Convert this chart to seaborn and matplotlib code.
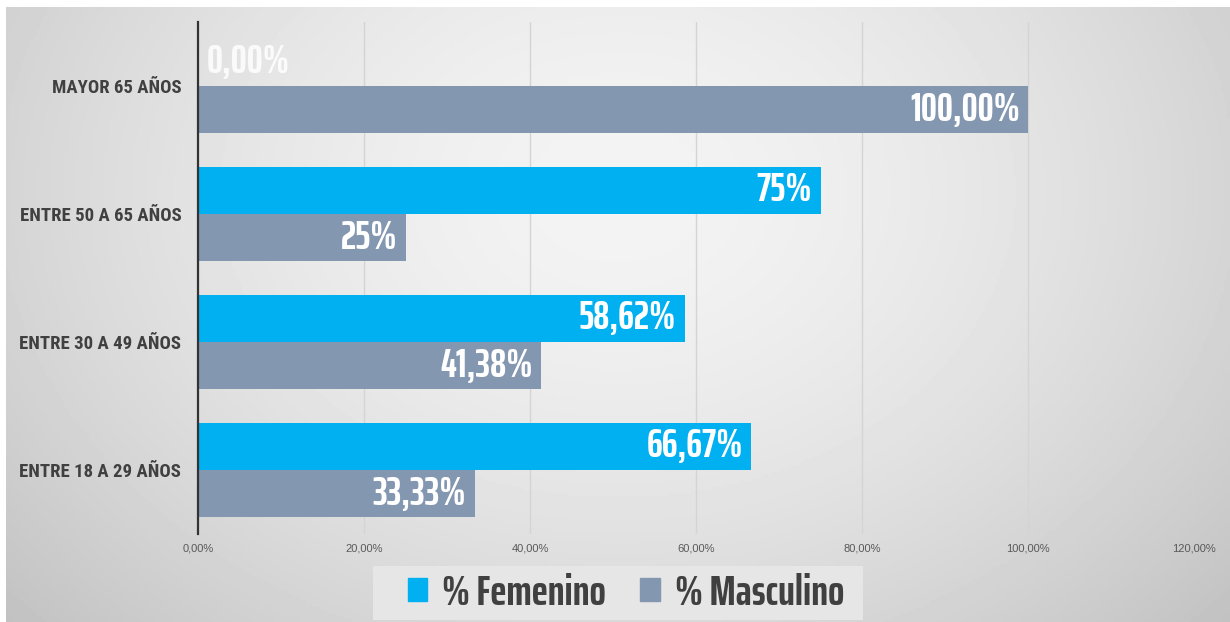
import matplotlib.pyplot as plt
import matplotlib.patches as patches
import seaborn as sns
import numpy as np
import pandas as pd

# data
grupos = ['MAYOR 65 AÑOS', 'ENTRE 50 A 65 AÑOS', 'ENTRE 30 A 49 AÑOS', 'ENTRE 18 A 29 AÑOS']
femenino = [0.0, 75.0, 58.62, 66.67]
masculino = [100.0, 25.0, 41.38, 33.33]
etiq_fem = ['0,00%', '75%', '58,62%', '66,67%']
etiq_mas = ['100,00%', '25%', '41,38%', '33,33%']
series = ['% Femenino', '% Masculino']
ticks = [0, 20, 40, 60, 80, 100, 120]
tick_labels = ['0,00%', '20,00%', '40,00%', '60,00%', '80,00%', '100,00%', '120,00%']

col_fem = '#00B0F0'
col_mas = '#8497B0'
cond = ['Saira ExtraCondensed', 'DejaVu Sans']
narrow = ['Roboto Condensed', 'DejaVu Sans']

df = pd.DataFrame({
    'grupo': grupos * 2,
    'serie': [series[0]] * 4 + [series[1]] * 4,
    'valor': femenino + masculino,
})

sns.set_theme(style='white')
plt.rcParams['font.family'] = ['Liberation Sans', 'DejaVu Sans']

W, H = 1230, 622
fig = plt.figure(figsize=(W / 100, H / 100), dpi=100)
fig.patch.set_facecolor('white')

# background: soft radial gray gradient, white strip on top / left
bg = fig.add_axes([6 / W, 0, 1 - 6 / W, 1 - 7 / H], zorder=-10)
yy, xx = np.mgrid[0:1:200j, 0:1:400j]
r = np.sqrt(((xx - 0.5) / 0.62) ** 2 + ((yy - 0.3) / 0.95) ** 2)
bg.imshow(0.955 - 0.17 * np.clip(r, 0, 1.1) ** 1.6, cmap='gray', vmin=0, vmax=1,
          aspect='auto', extent=[0, 1, 0, 1], origin='upper')
bg.axis('off')

ax = fig.add_axes([198 / W, 1 - 534 / H, (1194 - 198) / W, (534 - 22) / H])
ax.patch.set_alpha(0)

sns.barplot(data=df, y='grupo', x='valor', hue='serie', order=grupos,
            hue_order=series, palette=[col_fem, col_mas], orient='h',
            width=0.74, gap=0, saturation=1, legend=False, linewidth=0, ax=ax)

ax.set_xlim(0, 120)
ax.set_ylim(3.5, -0.5)
ax.set_xticks(ticks)
ax.set_xticklabels(tick_labels, fontsize=8, color='#595959')
ax.tick_params(axis='x', length=6, color='#a6a6a6', pad=7, direction='in')
ax.tick_params(axis='y', length=0, pad=12)
ax.set_yticklabels(grupos, fontsize=13.5, fontweight='bold', color='#404040',
                   family=narrow)
ax.grid(axis='x', color='#d4d4d4', linewidth=1)
ax.set_axisbelow(True)
for s in ['top', 'right', 'bottom']:
    ax.spines[s].set_visible(False)
ax.spines['left'].set_color('#333333')
ax.spines['left'].set_linewidth(1.6)
ax.set_xlabel('')
ax.set_ylabel('')

# value labels inside bar ends
for cont, labs in zip(ax.containers, [etiq_fem, etiq_mas]):
    for bar, lab in zip(cont, labs):
        w = bar.get_width()
        yc = bar.get_y() + bar.get_height() / 2
        if w < 5:
            ax.text(w + 1, yc, lab, ha='left', va='center', color='white',
                    alpha=0.85, fontsize=29, fontweight='bold', family=cond)
        else:
            ax.text(w - 1, yc, lab, ha='right', va='center', color='white',
                    fontsize=29, fontweight='bold', family=cond)

# legend: light box behind, entries on top
fig.patches.append(patches.Rectangle((373 / W, 1 - 620 / H), (863 - 373) / W, 54 / H,
                                     transform=fig.transFigure, facecolor='#e6e6e6',
                                     edgecolor='none', zorder=1))
handles = [patches.Patch(color=col_fem), patches.Patch(color=col_mas)]
leg = fig.legend(handles, series, loc='center', bbox_to_anchor=(626 / W, 1 - 593 / H),
                 ncol=2, frameon=False, handlelength=0.45, handleheight=0.45,
                 handletextpad=0.35, columnspacing=0.8, borderpad=0, borderaxespad=0,
                 prop={'family': cond, 'weight': 'bold', 'size': 31})
leg.set_zorder(2)
for t in leg.get_texts():
    t.set_color('#404040')

fig.savefig('out.png', dpi=100)
